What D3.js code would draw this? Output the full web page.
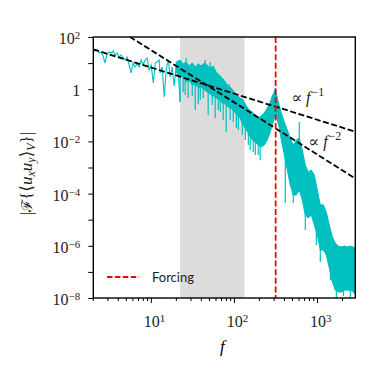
<!DOCTYPE html>
<html>
<head>
<meta charset="utf-8">
<script src="https://cdn.jsdelivr.net/npm/d3@7"></script>
<style>
  body { margin: 0; background: #fff; }
  .tick text { font-family: "Liberation Serif", serif; }
</style>
</head>
<body>
<div id="chart"></div>
<script>
var w = 374;
var h = 374;
var plotL = 93.3, plotR = 355.3, plotT = 37, plotB = 298;

// low frequency part of the spectrum (single trace)
var lineF = [2.02, 2.13, 2.25, 2.38, 2.52, 2.66, 2.81, 2.97, 3.15, 3.33, 3.52, 3.71, 3.93, 4.15, 4.39, 4.64, 4.90, 5.18, 5.48, 5.79, 6.12, 6.47, 6.84, 7.23, 7.64, 8.08, 8.53, 9.02, 9.54, 10.1, 10.7, 11.3, 11.9, 12.6, 12.9, 13.7, 14.5, 15.3, 16.2, 17.1, 18.1, 19.1, 20.2, 21.3, 22.5];
var lineV = [34.7, 29.1, 31.8, 24.4, 26.6, 18.7, 10.1, 22.3, 26.6, 24.4, 29.1, 20.4, 24.4, 17.1, 20.4, 15.7, 13.1, 17.1, 8.46, 4.18, 10.1, 7.09, 9.24, 7.09, 13.1, 8.46, 13.1, 15.7, 5.44, 8.46, 1.73, 10.1, 11.0, 13.1, 4.18, 7.09, 0.50, 5.44, 13.1, 2.93, 7.09, 1.33, 8.46, 5.44, 0.324];

// dense part: upper and lower edge of the noisy band
var bandF = [20.2, 22.5, 24.5, 26.6, 28.9, 31.5, 34.2, 37.2, 40.4, 43.9, 47.7, 51.8, 56.3, 61.2, 66.5, 72.3, 78.6, 85.3, 92.7, 101, 110, 119, 129, 141, 153, 166, 181, 196, 213, 232, 252, 274, 289, 306, 315, 333, 352, 372, 404, 439, 477, 518, 564, 612, 665, 723, 786, 853, 927, 1008, 1096, 1191, 1294, 1406, 1528, 1660, 1806, 1963, 2133, 2317, 2518, 2735, 2891];
var bandHi = [11.0, 13.1, 9.24, 11.0, 7.74, 10.1, 7.09, 9.24, 7.74, 10.1, 8.46, 6.49, 7.74, 4.56, 3.50, 2.69, 1.89, 1.33, 1.11, 0.78, 0.55, 0.46, 0.386, 0.227, 0.16, 0.134, 0.103, 0.079, 0.094, 0.123, 0.19, 0.324, 0.55, 0.78, 1.11, 0.46, 0.227, 0.123, 0.055, 0.0273, 0.0135, 0.0073, 0.0113, 0.0135, 0.0047, 0.00125, 0.00067, 0.0008, 0.00052, 0.000137, 3.7e-5, 3.7e-5, 1.97e-5, 6.3e-6, 2.2e-6, 1.28e-6, 9.8e-7, 9.0e-7, 9.8e-7, 9.0e-7, 9.8e-7, 9.0e-7, 8.2e-7];
var bandLo = [4.56, 2.69, 3.20, 1.89, 2.25, 1.45, 1.58, 1.11, 1.21, 0.93, 0.78, 0.655, 0.55, 0.46, 0.386, 0.296, 0.271, 0.208, 0.19, 0.134, 0.103, 0.079, 0.0425, 0.0273, 0.0176, 0.0113, 0.0095, 0.0073, 0.0061, 0.0073, 0.0113, 0.0229, 0.0425, 0.079, 0.134, 0.066, 0.0326, 0.0113, 0.0030, 0.0008, 0.000214, 8.8e-5, 8.8e-5, 0.000137, 5.7e-5, 1.51e-5, 1.16e-5, 1.51e-5, 6.3e-6, 2.6e-6, 6.9e-7, 6.9e-7, 4.4e-7, 1.41e-7, 4.1e-8, 2.0e-8, 1.7e-8, 1.7e-8, 2.0e-8, 2.0e-8, 2.0e-8, 1.7e-8, 1.42e-8];

// individual spikes sticking out of the band (top and bottom of each spike)
var spikeF = [22.5, 24.5, 25.9, 28.1, 31.5, 34.2, 37.2, 39.3, 42.7, 49.0, 54.8, 59.5, 64.7, 68.4, 74.3, 80.8, 90.2, 98.1, 107, 113, 126, 137, 149, 157, 171, 181, 196, 207,
              26.6, 45.1, 51.8, 87.8,
              415, 518, 612, 723, 982, 1096, 1449, 1709, 2076, 2518];
var spikeTop = [3.50, 3.20, 2.69, 2.25, 1.58, 1.58, 1.11, 1.33, 1.11, 0.93, 0.78, 0.60, 0.46, 0.386, 0.296, 0.271, 0.227, 0.16, 0.134, 0.134, 0.079, 0.0425, 0.0229, 0.0176, 0.0113, 0.0113, 0.0073, 0.0073,
                15.7, 13.1, 11.0, 1.58,
                0.0047, 0.000137, 0.055, 2.35e-5, 4.0e-6, 1.07e-6, 1.84e-7, 2.4e-8, 2.4e-8, 2.4e-8];
var spikeBot = [0.324, 0.78, 0.60, 0.46, 0.55, 0.16, 0.271, 0.386, 0.46, 0.103, 0.248, 0.079, 0.16, 0.134, 0.066, 0.0229, 0.066, 0.055, 0.0326, 0.0273, 0.0176, 0.0113, 0.0073, 0.0047, 0.0039, 0.0030, 0.0030, 0.0019,
                9.24, 7.74, 5.44, 0.93,
                4.4e-5, 4.4e-5, 0.0047, 4.0e-6, 1.07e-6, 2.4e-7, 4.9e-8, 1.0e-8, 1.19e-8, 1.0e-8];

// power law guides: k * f^-n
var lawK = [68, 3180];
var lawN = [1, 2];
var lawLabel = ["\u22121", "\u22122"];
var lawLabelF = [490, 786];
var lawLabelV = [0.296, 0.0061];

var shadeRange = [22.5, 134];
var forcingF = 318;

var xMajor = [10, 100, 1000];
var xMajorExp = ["1", "2", "3"];
var xMinor = [2, 3, 4, 5, 6, 7, 8, 9, 20, 30, 40, 50, 60, 70, 80, 90, 200, 300, 400, 500, 600, 700, 800, 900, 2000];
var yTicks = [1e2, 1e1, 1, 1e-1, 1e-2, 1e-3, 1e-4, 1e-5, 1e-6, 1e-7, 1e-8];
var yLabelTicks = [1e2, 1, 1e-2, 1e-4, 1e-6, 1e-8];
var yLabelExp = ["2", "", "\u22122", "\u22124", "\u22126", "\u22128"];

var x = d3.scaleLog().domain([2.03, 2890]).range([plotL, plotR]);
var y = d3.scaleLog().domain([1e-8, 1e2]).range([plotB, plotT]);

var svg = d3.select("#chart").append("svg").attr("width", w).attr("height", h);

svg.append("clipPath").attr("id", "clip").append("rect")
    .attr("x", plotL).attr("y", plotT).attr("width", plotR - plotL).attr("height", plotB - plotT);

var plot = svg.append("g").attr("clip-path", "url(#clip)");

plot.append("rect")
    .attr("x", x(shadeRange[0])).attr("y", plotT)
    .attr("width", x(shadeRange[1]) - x(shadeRange[0])).attr("height", plotB - plotT)
    .style("fill", "#dcdcdc");

var cyan = "#00bfbf";

plot.append("path")
    .datum(bandF)
    .attr("d", d3.area()
        .x(function(d){ return x(d); })
        .y0(function(d, i){ return y(bandLo[i]); })
        .y1(function(d, i){ return y(bandHi[i]); }))
    .style("fill", cyan).style("stroke", cyan).style("stroke-width", 1);

plot.selectAll("line.spike").data(spikeF).enter().append("line")
    .attr("class", "spike")
    .attr("x1", function(d){ return x(d); }).attr("x2", function(d){ return x(d); })
    .attr("y1", function(d, i){ return y(spikeTop[i]); })
    .attr("y2", function(d, i){ return y(spikeBot[i]); })
    .style("stroke", cyan).style("stroke-width", 1.2);

plot.append("path")
    .datum(lineF)
    .attr("d", d3.line()
        .x(function(d){ return x(d); })
        .y(function(d, i){ return y(lineV[i]); }))
    .style("fill", "none").style("stroke", cyan).style("stroke-width", 1.1);

// power laws across the whole x range
var ends = x.domain();
plot.selectAll("line.law").data(lawK).enter().append("line")
    .attr("class", "law")
    .attr("x1", x(ends[0])).attr("x2", x(ends[1]))
    .attr("y1", function(d, i){ return y(d / Math.pow(ends[0], lawN[i])); })
    .attr("y2", function(d, i){ return y(d / Math.pow(ends[1], lawN[i])); })
    .style("stroke", "#000").style("stroke-width", 1.8).style("stroke-dasharray", "6,2.6");

plot.append("line")
    .attr("x1", x(forcingF)).attr("x2", x(forcingF))
    .attr("y1", plotT).attr("y2", plotB)
    .style("stroke", "#ff0000").style("stroke-width", 1.8).style("stroke-dasharray", "6,2.6");

// annotations
var ann = svg.selectAll("text.law").data(lawLabel).enter().append("text")
    .attr("class", "law")
    .attr("x", function(d, i){ return x(lawLabelF[i]); })
    .attr("y", function(d, i){ return y(lawLabelV[i]); })
    .attr("font-family", "Liberation Serif, DejaVu Serif, serif")
    .attr("font-size", "16px").attr("fill", "#222");
ann.append("tspan").text("\u221D ");
ann.append("tspan").attr("font-style", "italic").text("f");
ann.append("tspan").attr("dy", -7).attr("dx", 1).attr("font-size", "12px").text(function(d){ return d; });

// axes
function supLabel(sel, exps) {
    sel.selectAll(".tick text").each(function(d, i){
        var t = d3.select(this);
        t.text(null);
        if (exps[i] === "") { t.text("1"); return; }
        t.append("tspan").text("10");
        t.append("tspan").attr("dy", "-0.45em").attr("font-size", "11px").text(exps[i]);
    });
}

var gx = svg.append("g").attr("transform", "translate(0," + plotB + ")")
    .call(d3.axisBottom(x).tickValues(xMajor).tickSize(5).tickPadding(9).tickFormat(function(){ return ""; }));
gx.select(".domain").remove();
gx.selectAll(".tick text").attr("font-size", "16px").attr("fill", "#222").attr("dy", "0.95em").attr("dx", "0.2em");
supLabel(gx, xMajorExp);

var gxm = svg.append("g").attr("transform", "translate(0," + plotB + ")")
    .call(d3.axisBottom(x).tickValues(xMinor).tickSize(3).tickFormat(function(){ return ""; }));
gxm.select(".domain").remove();

var gy = svg.append("g").attr("transform", "translate(" + plotL + ",0)")
    .call(d3.axisLeft(y).tickValues(yTicks).tickSize(5).tickFormat(function(){ return ""; }));
gy.select(".domain").remove();

var gyl = svg.append("g").attr("transform", "translate(" + plotL + ",0)")
    .call(d3.axisLeft(y).tickValues(yLabelTicks).tickSize(0).tickPadding(13).tickFormat(function(){ return ""; }));
gyl.select(".domain").remove();
gyl.selectAll(".tick text").attr("font-size", "16px").attr("fill", "#222").attr("dy", "0.4em");
supLabel(gyl, yLabelExp);

svg.selectAll(".tick line").style("stroke", "#000").style("stroke-width", 1);

svg.append("rect")
    .attr("x", plotL).attr("y", plotT).attr("width", plotR - plotL).attr("height", plotB - plotT)
    .style("fill", "none").style("stroke", "#000").style("stroke-width", 1.4);

// axis titles
svg.append("text")
    .attr("x", (plotL + plotR) / 2 - 2).attr("y", 352)
    .attr("text-anchor", "middle")
    .attr("font-family", "Liberation Serif, serif").attr("font-style", "italic").attr("font-size", "17px")
    .text("f");

var yl = svg.append("text")
    .attr("transform", "translate(32," + ((plotT + plotB) / 2 + 6) + ") rotate(-90)")
    .attr("text-anchor", "middle").attr("fill", "#222")
    .attr("font-family", "Liberation Serif, DejaVu Serif, serif").attr("font-size", "17px");
yl.append("tspan").text("|");
yl.append("tspan").attr("font-family", "DejaVu Serif").attr("font-size", "15px").text("\u2131");
yl.append("tspan").text("{\u27E8");
yl.append("tspan").attr("font-style", "italic").text("u");
yl.append("tspan").attr("font-style", "italic").attr("font-size", "12px").attr("dy", 3).text("x");
yl.append("tspan").attr("font-style", "italic").attr("dy", -3).text("u");
yl.append("tspan").attr("font-style", "italic").attr("font-size", "12px").attr("dy", 3).text("y");
yl.append("tspan").attr("dy", -3).text("\u27E9");
yl.append("tspan").attr("font-style", "italic").attr("font-size", "12px").attr("dy", 3).text("V");
yl.append("tspan").attr("dy", -3).text("}|");

// legend
svg.append("line")
    .attr("x1", 107).attr("x2", 139).attr("y1", 277).attr("y2", 277)
    .style("stroke", "#ff0000").style("stroke-width", 1.8).style("stroke-dasharray", "5.5,2.4");
svg.append("text")
    .attr("x", 152).attr("y", 282)
    .attr("font-family", "Lato, sans-serif").attr("font-size", "13px").attr("fill", "#222")
    .text("Forcing");
</script>
</body>
</html>
